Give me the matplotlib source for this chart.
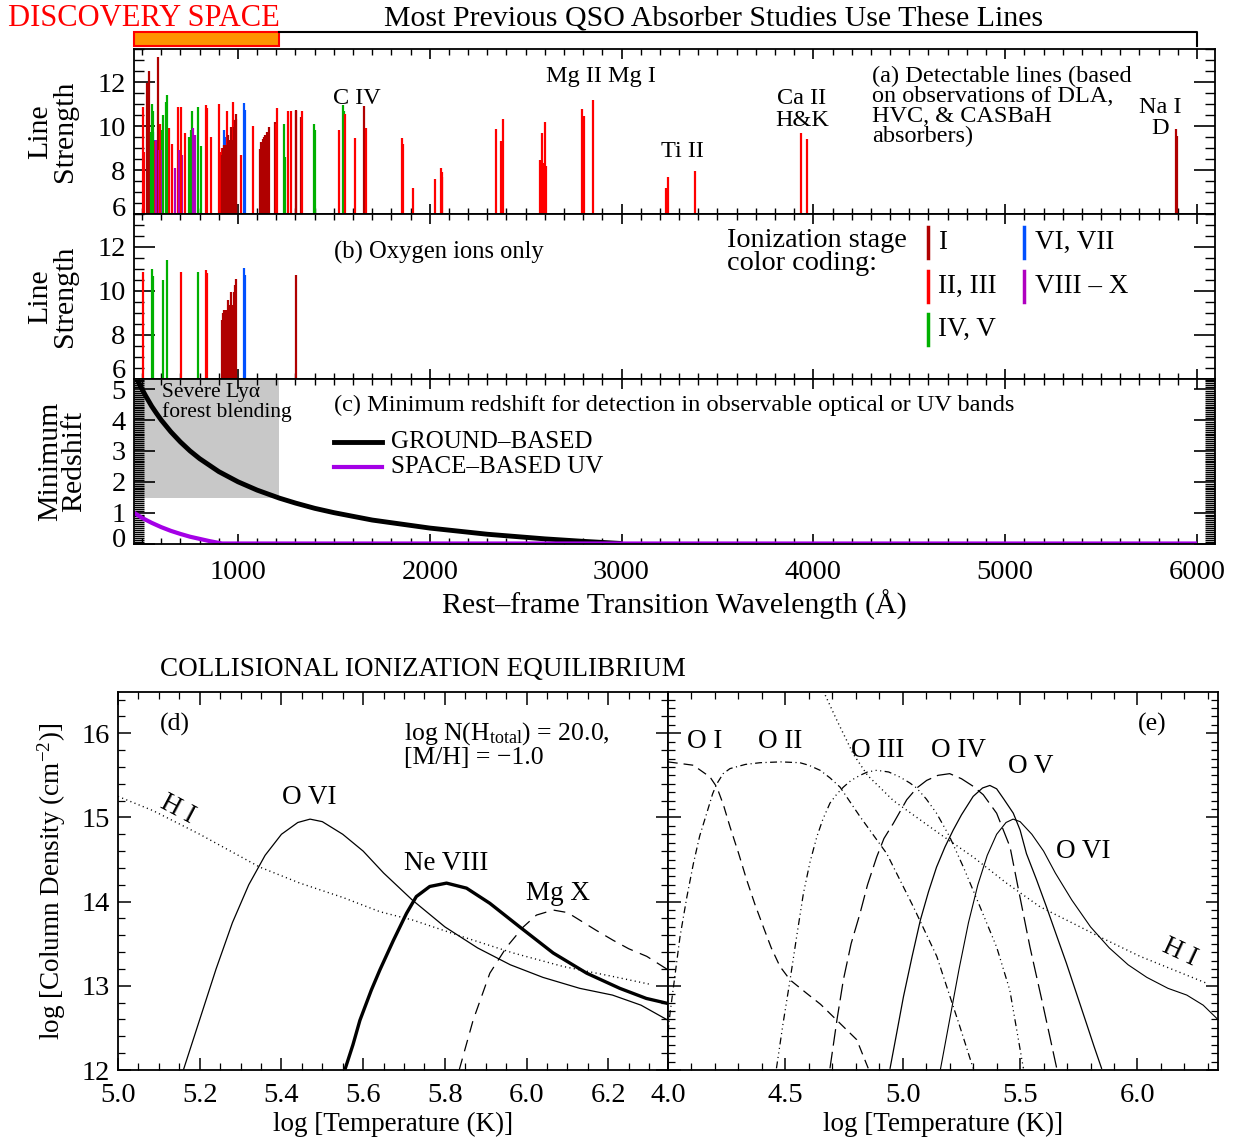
import matplotlib.pyplot as plt
import matplotlib.transforms as mtransforms
from matplotlib.patches import Rectangle
from matplotlib.ticker import MultipleLocator, FixedLocator
import numpy as np

plt.rcParams['font.family'] = ['Liberation Serif', 'DejaVu Serif']
plt.rcParams['mathtext.fontset'] = 'custom'
plt.rcParams['mathtext.rm'] = 'Liberation Serif'
plt.rcParams['mathtext.it'] = 'Liberation Serif:italic'
plt.rcParams['lines.scale_dashes'] = False
plt.rcParams['axes.linewidth'] = 1.3

# ---------------- data ----------------
# stage group: 1 = I, 2 = II/III, 4 = IV/V, 6 = VI/VII, 8 = VIII-X
# (a) lines of elements other than oxygen
wave_other = [508, 524, 538, 545, 558, 565, 568, 572, 578, 582, 586, 592, 603, 606, 627,
              641, 658, 672, 686, 693, 698, 710, 724, 745, 753, 762, 767, 776, 807, 857,
              901, 906, 918, 929, 936, 945, 953, 974, 988, 1017, 1080,
              1115, 1122, 1129, 1136, 1143, 1150, 1157, 1164, 1195, 1200, 1206,
              1240, 1245, 1259, 1276, 1304, 1330, 1334, 1394, 1402,
              1527, 1548, 1551, 1560, 1608, 1656, 1670, 1855, 1863, 1911,
              2026, 2056, 2062, 2066, 2344, 2374, 2382, 2576, 2586, 2594, 2600, 2606,
              2796, 2803, 2852, 3230, 3242, 3384, 3934, 3969, 5890, 5896]
strength_other = [8.8, 11.97, 12.5, 9.74, 9.74, 9.36, 9.3, 9.36, 8.9, 13.15, 8.9, 10.1, 9.8, 8.9, 11.1,
                  9.9, 9.2, 8.08, 10.88, 8.9, 8.7, 8.7, 9.7, 9.5, 9.8, 10.66, 9.9, 9.6, 9.1, 9.5,
                  11.0, 8.8, 9.0, 9.8, 9.5, 10.66, 9.36, 11.1, 10.3, 8.7, 10.0,
                  8.97, 9.27, 9.42, 9.5, 9.6, 9.73, 9.42, 9.95, 10.2, 10.1, 10.8,
                  10.1, 8.6, 10.66, 10.66, 10.7, 10.4, 10.7, 10.1, 9.8,
                  9.8, 10.95, 10.7, 10.55, 9.45, 10.9, 9.9, 9.45, 9.2, 7.2,
                  7.6, 8.1, 7.9, 7.7, 9.86, 9.3, 10.3, 8.45, 9.7, 8.3, 10.2, 8.2,
                  10.77, 10.45, 11.2, 7.2, 7.7, 7.95, 9.7, 9.4, 9.85, 9.55]
stage_other = [2, 1, 1, 4, 6, 6, 2, 8, 8, 1, 8, 2, 4, 8, 4,
               2, 2, 8, 2, 8, 8, 8, 2, 4, 4, 4, 8, 8, 4, 2,
               2, 2, 2, 6, 6, 2, 2, 2, 2, 2, 2,
               1, 1, 1, 1, 1, 1, 1, 1, 1, 2, 2,
               4, 4, 2, 2, 2, 1, 2, 4, 4,
               2, 4, 4, 2, 2, 1, 2, 2, 2, 2,
               2, 2, 2, 2, 2, 2, 2, 2, 2, 2, 2, 2,
               2, 2, 2, 2, 2, 2, 2, 2, 1, 1]

# oxygen lines (shown in (a) and (b))
wave_oxy = [506, 553, 555, 611, 632, 703, 790, 833, 836,
            915, 921, 927, 933, 940, 946, 952, 960, 965, 972, 979, 986, 991,
            1033, 1039, 1302]
strength_oxy = [10.88, 10.99, 10.7, 10.5, 11.41, 10.88, 10.85, 10.95, 10.8,
                8.68, 8.99, 9.14, 8.83, 9.14, 9.59, 9.06, 9.36, 9.97, 9.36, 9.97, 10.27, 10.53,
                11.03, 10.73, 10.71]
stage_oxy = [2, 4, 4, 4, 4, 2, 4, 2, 2,
             1, 1, 1, 1, 1, 1, 1, 1, 1, 1, 1, 1, 1,
             6, 6, 1]

stage_colors = {1: '#b00000', 2: '#ff0000', 4: '#00b000', 6: '#0050ff', 8: '#b000c0'}
stage_names = {1: 'I', 2: 'II, III', 4: 'IV, V', 6: 'VI, VII', 8: 'VIII – X'}

# (c) minimum redshift for detection
wave_ground = [476, 490, 500, 520, 550, 575, 600, 650, 700, 750, 800, 900, 1000, 1100, 1216,
               1300, 1400, 1500, 1700, 2000, 2300, 2600, 2800, 3000]
z_ground = [5.30, 5.12, 5.00, 4.77, 4.45, 4.22, 4.00, 3.62, 3.29, 3.00, 2.75, 2.33, 2.00, 1.73, 1.47,
            1.31, 1.14, 1.00, 0.76, 0.50, 0.30, 0.15, 0.07, 0.0]
wave_space = [458, 480, 500, 550, 600, 650, 700, 750, 800, 850, 917, 6000]
z_space = [1.0, 0.91, 0.83, 0.67, 0.53, 0.41, 0.31, 0.22, 0.15, 0.08, 0.0, 0.0]
lya_wave = 1216
z_blend = 1.47

# (d) CIE column densities
logT_ovi = [5.16, 5.20, 5.24, 5.28, 5.32, 5.36, 5.40, 5.44, 5.47, 5.50, 5.55, 5.60, 5.65, 5.72,
            5.80, 5.88, 5.96, 6.04, 6.13, 6.21, 6.28, 6.35]
logN_ovi = [12.0, 12.6, 13.2, 13.75, 14.2, 14.55, 14.8, 14.94, 14.98, 14.95, 14.8, 14.6, 14.34, 14.02,
            13.7, 13.45, 13.25, 13.1, 12.97, 12.89, 12.77, 12.58]
logT_ne8 = [5.555, 5.575, 5.592, 5.62, 5.641, 5.674, 5.706, 5.73, 5.763, 5.804, 5.853, 5.91,
            5.983, 6.065, 6.147, 6.228, 6.293, 6.346]
logN_ne8 = [12.0, 12.3, 12.59, 12.95, 13.19, 13.54, 13.86, 14.06, 14.18, 14.22, 14.16, 13.98,
            13.70, 13.39, 13.15, 12.97, 12.85, 12.79]
logT_mg10 = [5.835, 5.869, 5.91, 5.951, 5.992, 6.024, 6.065, 6.10, 6.13, 6.17, 6.212, 6.25, 6.294, 6.346]
logN_mg10 = [12.0, 12.59, 13.15, 13.46, 13.70, 13.84, 13.90, 13.87, 13.78, 13.66, 13.54, 13.44, 13.35, 13.19]
logT_hi_d = [5.0, 5.086, 5.2, 5.347, 5.445, 5.55, 5.641, 5.722, 5.845, 5.967, 6.089, 6.212, 6.30]
logN_hi_d = [15.25, 15.08, 14.8, 14.41, 14.22, 14.05, 13.88, 13.78, 13.58, 13.39, 13.23, 13.11, 13.02]

# (e) oxygen ions
logT_o1 = [4.0, 4.108, 4.179, 4.208, 4.236, 4.264, 4.30, 4.335, 4.37, 4.406, 4.44, 4.477, 4.52,
           4.591, 4.65, 4.705, 4.76, 4.804, 4.853]
logN_o1 = [15.66, 15.62, 15.48, 15.36, 15.15, 14.89, 14.58, 14.26, 13.97, 13.70, 13.45, 13.23, 13.07,
           12.91, 12.78, 12.63, 12.48, 12.36, 12.02]
logT_o2 = [4.0, 4.009, 4.051, 4.08, 4.108, 4.135, 4.165, 4.19, 4.208, 4.235, 4.264, 4.33, 4.392,
           4.48, 4.562, 4.60, 4.648, 4.69, 4.733, 4.818, 4.932, 5.045, 5.145, 5.244, 5.30]
logN_o2 = [12.45, 12.68, 13.58, 14.05, 14.45, 14.78, 15.05, 15.28, 15.40, 15.52, 15.58, 15.63, 15.65,
           15.66, 15.65, 15.62, 15.56, 15.47, 15.36, 15.01, 14.57, 13.94, 13.35, 12.51, 12.02]
logT_o3 = [4.462, 4.49, 4.52, 4.55, 4.577, 4.605, 4.634, 4.66, 4.69, 4.72, 4.747, 4.78, 4.818, 4.85,
           4.889, 4.94, 4.988, 5.03, 5.059, 5.10, 5.144, 5.20, 5.26, 5.329, 5.40, 5.456, 5.514]
logN_o3 = [12.02, 12.55, 13.07, 13.62, 14.10, 14.47, 14.77, 14.98, 15.17, 15.28, 15.36, 15.44, 15.50, 15.54,
           15.56, 15.54, 15.48, 15.41, 15.35, 15.22, 15.05, 14.77, 14.40, 13.94, 13.46, 12.95, 12.02]
logT_o4 = [4.69, 4.72, 4.747, 4.78, 4.818, 4.85, 4.889, 4.92, 4.96, 5.017, 5.06, 5.102, 5.15, 5.20,
           5.25, 5.30, 5.343, 5.40, 5.457, 5.499, 5.542, 5.599, 5.656]
logN_o4 = [12.02, 12.6, 13.07, 13.5, 13.86, 14.2, 14.53, 14.75, 14.93, 15.21, 15.35, 15.44, 15.50, 15.52,
           15.46, 15.37, 15.27, 15.05, 14.65, 14.06, 13.46, 12.75, 12.02]
logT_o5 = [4.946, 4.975, 5.003, 5.04, 5.075, 5.11, 5.144, 5.18, 5.215, 5.25, 5.30, 5.34, 5.371, 5.40,
           5.43, 5.471, 5.50, 5.527, 5.57, 5.612, 5.655, 5.697, 5.74, 5.783, 5.815, 5.847]
logN_o5 = [12.02, 12.45, 12.87, 13.35, 13.78, 14.12, 14.41, 14.65, 14.85, 15.03, 15.25, 15.35, 15.38, 15.34,
           15.22, 15.05, 14.85, 14.57, 14.26, 13.94, 13.6, 13.27, 12.91, 12.55, 12.28, 12.02]
logT_hi_e = [4.662, 4.72, 4.79, 4.85, 4.96, 5.075, 5.16, 5.30, 5.442, 5.584, 5.727, 5.84, 6.011, 6.153, 6.295]
logN_hi_e = [16.5, 16.15, 15.75, 15.5, 15.2, 14.97, 14.8, 14.53, 14.22, 13.94, 13.74, 13.58, 13.35, 13.19, 13.03]

# ---------------- figure ----------------
W, H = 1237, 1141
fig = plt.figure(figsize=(W / 100, H / 100), dpi=100)


def box(l, t, r, b):
    return [l / W, 1 - b / H, (r - l) / W, (b - t) / H]


ax_a = fig.add_axes(box(134, 49, 1215, 214))
ax_b = fig.add_axes(box(134, 214, 1215, 379))
ax_c = fig.add_axes(box(134, 379, 1215, 543.5))
ax_d = fig.add_axes(box(118, 692, 668, 1070))
ax_e = fig.add_axes(box(668, 692, 1218, 1070))

xmin, xmax = 458, 6094
TL = 20.5  # tick label size


def shift_first_label(ax, dy_px):
    t = ax.yaxis.get_major_ticks()[0]
    off = mtransforms.ScaledTranslation(0, dy_px / 100, fig.dpi_scale_trans)
    t.label1.set_transform(t.label1.get_transform() + off)


for ax in (ax_a, ax_b, ax_c):
    ax.set_xlim(xmin, xmax)
    ax.xaxis.set_major_locator(MultipleLocator(1000))
    ax.xaxis.set_minor_locator(MultipleLocator(100))
    ax.tick_params(axis='x', which='major', direction='in', top=True, bottom=True,
                   length=7.5, width=1.2, labelsize=TL, pad=12)
    ax.tick_params(axis='x', which='minor', direction='in', top=True, bottom=True,
                   length=4, width=1.0)
    ax.tick_params(axis='y', which='major', direction='in', left=True, right=True,
                   length=15, width=1.2, labelsize=TL, pad=6)
    ax.tick_params(axis='y', which='minor', direction='in', left=True, right=True,
                   length=7.5, width=1.0)

for ax, dy in ((ax_a, 8), (ax_b, 11)):
    ax.set_ylim(6, 13.5)
    ax.set_yticks([6, 8, 10, 12])
    ax.yaxis.set_minor_locator(MultipleLocator(0.5))
    ax.tick_params(axis='x', labelbottom=False)
    ax.set_ylabel('Line\nStrength', fontsize=21.5, linespacing=0.95)
    ax.yaxis.set_label_coords(-0.052, 0.5)
    shift_first_label(ax, dy)

# (a) all detectable lines
ax_a.vlines(wave_other, 6, strength_other, colors=[stage_colors[s] for s in stage_other], lw=1.6)
ax_a.vlines(wave_oxy, 6, strength_oxy, colors=[stage_colors[s] for s in stage_oxy], lw=1.6)
fs_lab = 17.5
ax_a.text(1620, 11.27, 'C IV', ha='center', va='center', fontsize=fs_lab)
ax_a.text(2893, 12.23, 'Mg II Mg I', ha='center', va='center', fontsize=fs_lab)
ax_a.text(3315, 8.82, 'Ti II', ha='center', va='center', fontsize=fs_lab)
ax_a.text(3940, 10.75, 'Ca II\nH&K', ha='center', va='center', fontsize=fs_lab, linespacing=1.0)
ax_a.text(5807, 10.35, 'Na I\nD', ha='center', va='center', fontsize=fs_lab, linespacing=1.0)
ax_a.text(4306, 12.72, '(a) Detectable lines (based\non observations of DLA,\nHVC, & CASBaH\nabsorbers)',
          ha='left', va='top', fontsize=17.5, linespacing=0.92)

# discovery-space bracket above (a)
tr = mtransforms.blended_transform_factory(ax_a.transData, ax_a.transAxes)
ax_a.add_patch(Rectangle((xmin, 1.02), lya_wave - xmin, 0.083, transform=tr, clip_on=False,
                         facecolor='#ff9400', edgecolor='#ff0000', lw=1.5))
ax_a.plot([lya_wave, 6000, 6000], [1.103, 1.103, 1.02], transform=tr, clip_on=False,
          color='black', lw=1.5)
fig.text(144 / W, 1 - 18 / H, 'DISCOVERY SPACE', color='#ff0000', fontsize=22,
         ha='center', va='center')
fig.text(714 / W, 1 - 18 / H, 'Most Previous QSO Absorber Studies Use These Lines',
         fontsize=21.5, ha='center', va='center')

# (b) oxygen only
ax_b.vlines(wave_oxy, 6, strength_oxy, colors=[stage_colors[s] for s in stage_oxy], lw=1.6)
ax_b.text(1500, 11.77, '(b) Oxygen ions only', ha='left', va='center', fontsize=17.7)
ax_b.text(3550, 11.77, 'Ionization stage\ncolor coding:', ha='left', va='center', fontsize=20.3,
          linespacing=0.9)
legend_pos = {1: (4597, 12.2), 2: (4597, 10.22), 4: (4597, 8.25), 6: (5098, 12.2), 8: (5098, 10.22)}
for s, (lx, ly) in legend_pos.items():
    ax_b.plot([lx, lx], [ly - 0.7, ly + 0.7], color=stage_colors[s], lw=2.5)
    ax_b.text(lx + 55, ly, stage_names[s], ha='left', va='center', fontsize=19.5)

# (c) minimum redshift
ax_c.set_ylim(0, 5.33)
ax_c.set_yticks([0, 1, 2, 3, 4, 5])
ax_c.yaxis.set_minor_locator(FixedLocator(np.arange(0, 5.33, 0.0625)))
ax_c.fill_between([xmin, lya_wave], z_blend, 5.33, color='#c8c8c8', lw=0)
ax_c.plot(wave_ground, z_ground, color='black', lw=3.5, solid_capstyle='butt')
ax_c.plot(wave_space, z_space, color='#a400e6', lw=3.0, solid_capstyle='butt')
ax_c.text(604, 4.57, 'Severe Lyα\nforest blending', ha='left', va='center', fontsize=15.5,
          linespacing=1.05)
ax_c.text(1500, 4.46, '(c) Minimum redshift for detection in observable optical or UV bands',
          ha='left', va='center', fontsize=17.6)
ax_c.plot([1500, 1751], [3.30, 3.30], color='black', lw=3.5)
ax_c.plot([1500, 1751], [2.48, 2.48], color='#a400e6', lw=3.0)
ax_c.text(1798, 3.30, 'GROUND–BASED', ha='left', va='center', fontsize=18)
ax_c.text(1798, 2.48, 'SPACE–BASED UV', ha='left', va='center', fontsize=18)
ax_c.set_ylabel('Minimum\nRedshift', fontsize=21.5, linespacing=0.9)
ax_c.yaxis.set_label_coords(-0.043, 0.5)
ax_c.set_xlabel('Rest–frame Transition Wavelength (Å)', fontsize=21.5)
ax_c.xaxis.set_label_coords(0.5, -0.28)
shift_first_label(ax_c, 6)

# (d) and (e) CIE panels
for ax in (ax_d, ax_e):
    ax.set_ylim(12, 16.49)
    ax.yaxis.set_major_locator(MultipleLocator(1))
    ax.tick_params(axis='both', which='major', direction='in', top=True, bottom=True,
                   left=True, right=True, length=9, width=1.1, labelsize=TL)
    ax.tick_params(axis='both', which='minor', direction='in', top=True, bottom=True,
                   left=True, right=True, length=5, width=0.9)
    ax.tick_params(axis='x', pad=9)
    ax.tick_params(axis='y', pad=6)
    ax.set_xlabel('log [Temperature (K)]', fontsize=19.5)
    ax.xaxis.set_label_coords(0.5, -0.11)

ax_d.set_xlim(5.0, 6.346)
ax_d.xaxis.set_major_locator(MultipleLocator(0.2))
ax_d.xaxis.set_minor_locator(MultipleLocator(0.05))
ax_d.yaxis.set_minor_locator(MultipleLocator(0.2))
ax_d.xaxis.set_major_formatter(plt.FormatStrFormatter('%.1f'))
ax_d.set_ylabel('log [Column Density (cm$^{-2}$)]', fontsize=19.5)
ax_d.yaxis.set_label_coords(-0.09, 0.5)
shift_first_label(ax_d, 8)

ax_e.set_xlim(4.0, 6.343)
ax_e.xaxis.set_major_locator(MultipleLocator(0.5))
ax_e.xaxis.set_minor_locator(MultipleLocator(0.1))
ax_e.yaxis.set_minor_locator(MultipleLocator(0.1))
ax_e.xaxis.set_major_formatter(plt.FormatStrFormatter('%.1f'))
ax_e.tick_params(axis='y', labelleft=False)

thin = 0.9
ax_d.plot(logT_ovi, logN_ovi, color='black', lw=thin)
ax_d.plot(logT_ne8, logN_ne8, color='black', lw=2.4)
ax_d.plot(logT_mg10, logN_mg10, color='black', lw=thin, dashes=(8.5, 5.5))
ax_d.plot(logT_hi_d, logN_hi_d, color='black', lw=1.0, dashes=(0.8, 2.4))
fs_c = 19.5
ax_d.text(5.102, 16.10, '(d)', ha='left', va='center', fontsize=18.5)
ax_d.text(5.70, 15.86, 'log N(H$_{\\rm total}$) = 20.0,\n[M/H] = −1.0', ha='left', va='center',
          fontsize=18.5, linespacing=1.0)
ax_d.text(5.467, 15.24, 'O VI', ha='center', va='center', fontsize=fs_c)
ax_d.text(5.803, 14.45, 'Ne VIII', ha='center', va='center', fontsize=fs_c)
ax_d.text(6.077, 14.10, 'Mg X', ha='center', va='center', fontsize=fs_c)
ax_d.text(5.146, 15.09, 'H I', ha='center', va='center', fontsize=fs_c, rotation=-28)

ax_e.plot(logT_o1, logN_o1, color='black', lw=thin, dashes=(7, 4.3))
ax_e.plot(logT_o2, logN_o2, color='black', lw=thin, dashes=(5, 2.5, 0.8, 2.5))
ax_e.plot(logT_o3, logN_o3, color='black', lw=thin, dashes=(5, 2.5, 0.8, 2.5, 0.8, 2.5, 0.8, 2.5))
ax_e.plot(logT_o4, logN_o4, color='black', lw=thin, dashes=(12, 4.5))
ax_e.plot(logT_o5, logN_o5, color='black', lw=thin)
ax_e.plot(logT_ovi, logN_ovi, color='black', lw=0.8)
ax_e.plot(logT_hi_e, logN_hi_e, color='black', lw=1.0, dashes=(0.8, 2.4))
ax_e.text(6.062, 16.10, '(e)', ha='center', va='center', fontsize=18.5)
for lab, tx, ny in [('O I', 4.158, 15.90), ('O II', 4.477, 15.90), ('O III', 4.895, 15.80),
                    ('O IV', 5.236, 15.80), ('O V', 5.547, 15.60), ('O VI', 5.768, 14.60)]:
    ax_e.text(tx, ny, lab, ha='center', va='center', fontsize=fs_c)
ax_e.text(6.18, 13.40, 'H I', ha='center', va='center', fontsize=fs_c, rotation=-25)

fig.text(160 / W, 1 - 670 / H, 'COLLISIONAL IONIZATION EQUILIBRIUM', fontsize=19.5,
         ha='left', va='center')

fig.savefig('out.png', dpi=100)
